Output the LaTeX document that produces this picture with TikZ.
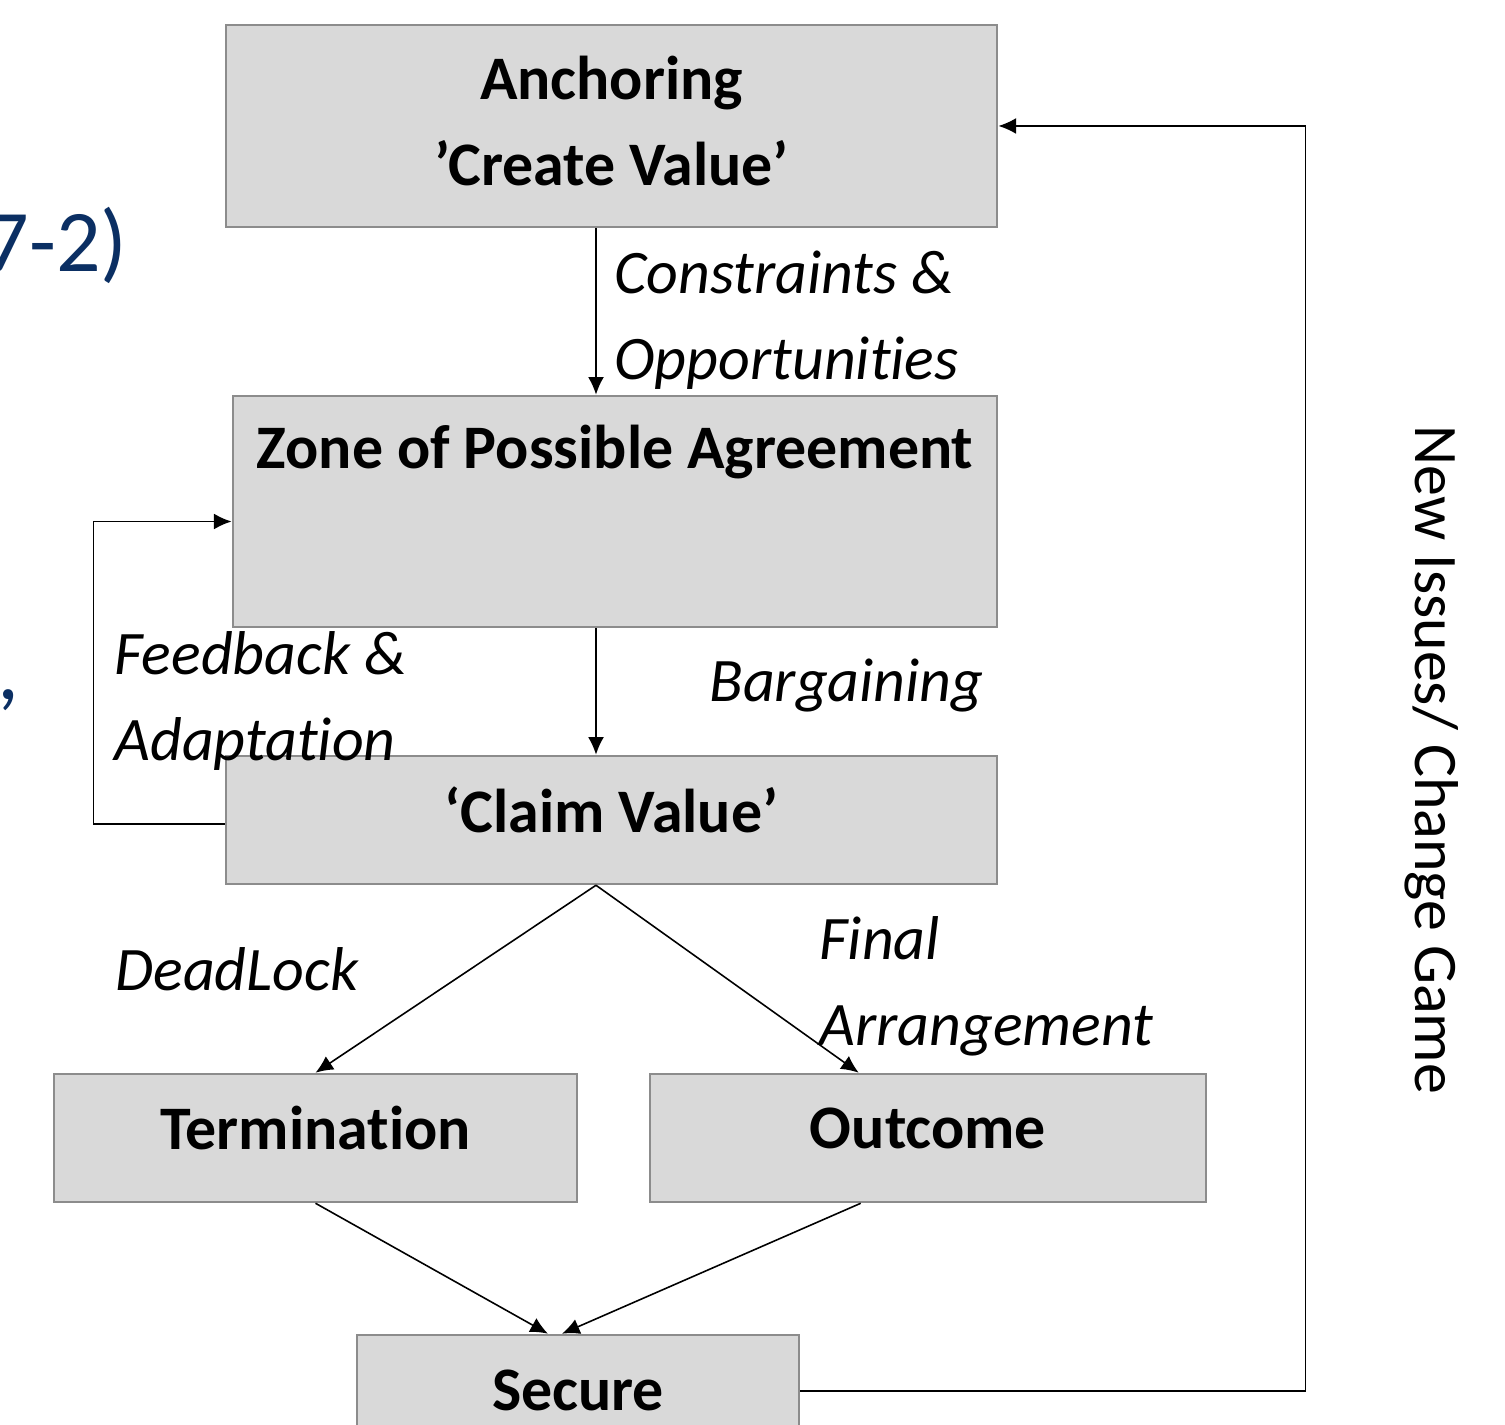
\documentclass[tikz,border=0pt]{standalone}
\usepackage{fontspec}
\setmainfont[Ligatures=NoCommon]{Carlito}
\usepackage{xcolor}
\usetikzlibrary{shapes, positioning, arrows.meta}

\definecolor{boxgray}{HTML}{D9D9D9}
\definecolor{edgegray}{HTML}{8C8C8C}
\definecolor{slideblue}{HTML}{0B2F63}

\begin{document}
\begin{tikzpicture}[x=0.01cm, y=-0.01cm,
        stage/.style={draw=edgegray, fill=boxgray, line width=0.7pt, inner sep=0pt},
        title/.style={font=\fontsize{17.6}{23.9}\selectfont\bfseries, align=center},
        cue/.style={font=\fontsize{17.6}{23.9}\selectfont\itshape, align=left, anchor=west},
        flow/.style={-{Latex[length=5pt, width=4.5pt]}, line width=0.45pt}]
        \useasboundingbox (0, 0) rectangle (1505, 1425);

        % cut-off text of the slide behind
        \node[text=slideblue, font=\fontsize{25}{30}\selectfont, anchor=east] (slidea) at (140, 245) {7-2)};
        \node[text=slideblue, font=\fontsize{25}{30}\selectfont] (slideb) at (8, 700) {,};

        \node[stage, minimum width=7.71cm, minimum height=2.02cm] (anchor) at (611.5, 126) {};
        \node[title] (anchortext) at (611.5, 121) {Anchoring\\[0.5pt]’Create Value’};

        \node[stage, minimum width=7.64cm, minimum height=2.31cm] (zopa) at (615, 511.5) {};
        \node[title] (zopatext) at (615, 452) {Zone of Possible Agreement};

        \node[stage, minimum width=7.71cm, minimum height=1.28cm] (claim) at (611.5, 820) {};
        \node[title] (claimtext) at (611.5, 810) {‘Claim Value’};

        \node[stage, minimum width=5.23cm, minimum height=1.28cm] (term) at (315.5, 1138) {};
        \node[title] (termtext) at (315.5, 1128) {Termination};

        \node[stage, minimum width=5.56cm, minimum height=1.28cm] (outcome) at (928, 1138) {};
        \node[title] (outcometext) at (928, 1128) {Outcome};

        \node[stage, minimum width=4.42cm, minimum height=1.20cm] (secure) at (578, 1395) {};
        \node[title] (securetext) at (578, 1390) {Secure};

        \coordinate (spine) at (596, 0);

        \draw[flow] (anchor.south -| spine) -- (zopa.north -| spine);
        \draw[flow] (zopa.south -| spine) -- (claim.north -| spine);
        \draw[flow] (claim.south -| spine) -- (term.north);
        \draw[flow] (claim.south -| spine) -- ([xshift=2.1cm]outcome.north west);
        \draw[flow] (term.south) -- ([xshift=-0.3cm]secure.north);
        \draw[flow] ([xshift=2.12cm]outcome.south west) -- ([xshift=-0.16cm]secure.north);
        \draw[flow] ([yshift=-0.04cm]claim.west) -- ++(-131, 0) |- ([yshift=-0.1cm]zopa.west);
        \draw[flow] ([yshift=0.04cm]secure.east) -- ++(505, 0) |- (anchor.east);

        \node[cue] (constraints) at (602, 320) {Constraints \&\\[0.5pt]Opportunities};
        \node[cue] (feedback) at (102, 701) {Feedback \&\\[0.5pt]Adaptation};
        \node[cue] (bargain) at (697, 686) {Bargaining};
        \node[cue] (deadlock) at (103, 969) {DeadLock};
        \node[cue] (final) at (807, 986) {Final\\[0.5pt]Arrangement};
        \node[font=\fontsize{17.6}{23.9}\selectfont, rotate=-90] (newissues) at (1432, 760) {New Issues/ Change Game};
\end{tikzpicture}
\end{document}
